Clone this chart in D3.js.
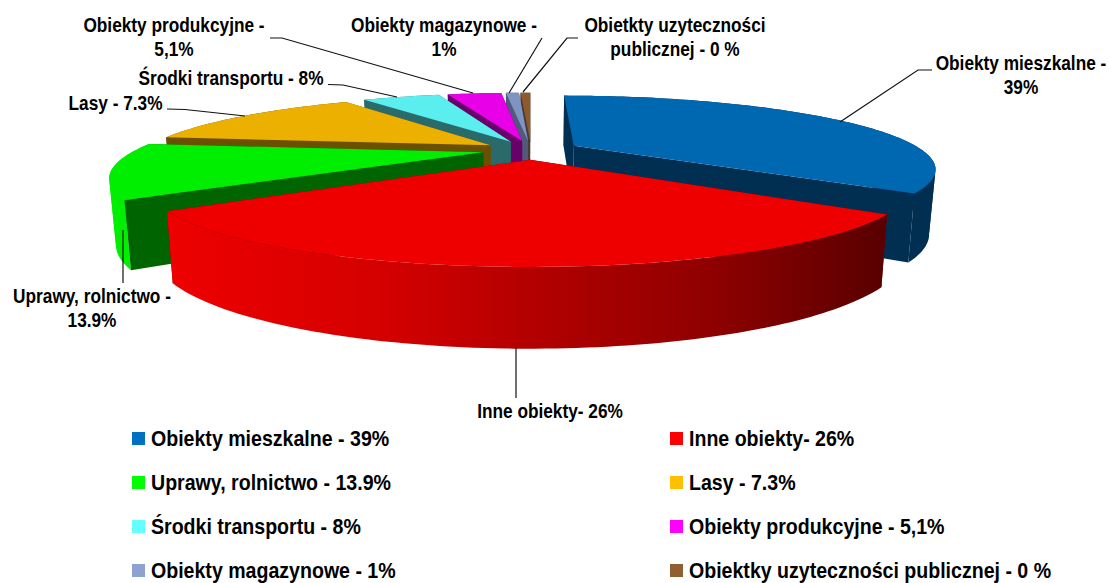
<!DOCTYPE html>
<html><head><meta charset="utf-8">
<script src="https://cdnjs.cloudflare.com/ajax/libs/d3/7.8.5/d3.min.js"></script>
<style>
html,body{margin:0;padding:0;background:#fff}
svg{display:block}
text{font-family:"Liberation Sans",Arial,sans-serif;font-weight:bold;fill:#000}
</style></head><body>
<svg id="c" width="1110" height="583"></svg>
<script>
// Series as listed in the legend (label text is what the chart prints)
const categories = ["Obiekty mieszkalne - 39%","Inne obiekty- 26%","Uprawy, rolnictwo - 13.9%","Lasy - 7.3%","Środki transportu - 8%","Obiekty produkcyjne - 5,1%","Obiekty magazynowe - 1%","Obiektky uzyteczności publicznej - 0 %"];
// Printed values
const printedValues = [39,26,13.9,7.3,8,5.1,1,0];
const drawnShares = [35.3,30,11.7,13.6,4.7,3.3,0.8,0.6];
const topColors  = ["#0068b0","#ee0000","#00ee00","#ecb000","#5aeeee","#e800e8","#8094c4","#8c5a2c"];
const sideColors = ["#002f52","#6a0000","#006400","#6b5000","#2a6a6a","#6a006a","#505a7a","#4a3a30"];
const legendColors = ["#0070c0","#ff0000","#00ff00","#ffc000","#66ffff","#ff00ff","#8ea2d0","#8f5f30"];
const paintOrder = [7,6,5,4,3,2,0,1];

const svg = d3.select("#c");
const defs = svg.append("defs");
const cx=531, cy=150, R=348, H=67.5, K=0.3, EXPL=0.14, DEPTH=61, TAPER=0.016;
const proj=(u,v,z=0)=>{const s=1/(1-K*v);return [cx+R*u*s*(1-TAPER*z/DEPTH), cy+H*v*s+z*Math.pow(s,0.7)];};
const pie=d3.pie().sort(null).value(d=>d).startAngle(0).endAngle(2*Math.PI);
const arcs=pie(drawnShares);
const line=d3.line().curve(d3.curveLinearClosed);

// Red rim gradient
const g=defs.append("linearGradient").attr("id","redRim").attr("gradientUnits","userSpaceOnUse").attr("x1",168).attr("x2",889).attr("y1",0).attr("y2",0);
[[0,"#ee0000"],[0.3,"#d40000"],[0.5,"#b40000"],[0.75,"#900000"],[1,"#580000"]].forEach(s=>g.append("stop").attr("offset",s[0]).attr("stop-color",s[1]));

paintOrder.forEach(i=>{
  const a=arcs[i], mid=(a.startAngle+a.endAngle)/2;
  const ox=EXPL*Math.sin(mid), oy=-EXPL*Math.cos(mid);
  const n=Math.max(4,Math.ceil((a.endAngle-a.startAngle)/0.02));
  const angs=d3.range(n+1).map(j=>a.startAngle+(a.endAngle-a.startAngle)*j/n);
  const rim=angs.map(t=>[ox+Math.sin(t),oy-Math.cos(t)]);
  const apex=[ox,oy];
  const P=(p,z)=>proj(p[0],p[1],z);
  const G=svg.append("g");
  const first=rim[0], last=rim[rim.length-1];
  const wallFill = i===1 ? "url(#redRim)" : (i===2 ? topColors[2] : sideColors[i]);
  const drawWall=()=>{
    // split the rim where its screen direction turns, so each run is one clean band
    const runs=[];
    rim.forEach((p,j)=>{
      if(j===0){runs.push([p]);return;}
      const sign=Math.sign(P(p,0)[0]-P(rim[j-1],0)[0]);
      const cur=runs[runs.length-1];
      if(cur.sign===undefined||cur.sign===sign){cur.push(p);cur.sign=sign;}
      else{const nr=[rim[j-1],p];nr.sign=sign;runs.push(nr);}
    });
    runs.forEach(r=>G.append("path")
      .attr("d",line(r.map(p=>P(p,0)).concat(r.slice().reverse().map(p=>P(p,DEPTH)))))
      .attr("fill",wallFill));
  };
  const drawCuts=()=>{
    [first,last].sort((p,q)=>p[1]-q[1]).forEach(e=>{
      G.append("path").attr("d",line([P(apex,0),P(e,0),P(e,DEPTH),P(apex,DEPTH)])).attr("fill",sideColors[i]);
    });
  };
  if(a.startAngle<Math.PI && a.endAngle>Math.PI){drawCuts();drawWall();} else {drawWall();drawCuts();}
  // top
  G.append("path").attr("d",line([P(apex,0)].concat(rim.map(p=>P(p,0))))).attr("fill",topColors[i]);
});

// Leader lines
const leaders=[
 [[840,122],[918,70],[932,70]],
 [[516,348],[516,398]],
 [[123,230],[123,283]],
 [[167,109],[185,109.5],[245,116]],
 [[328,84.5],[343,85],[397,97]],
 [[270,38],[282,38],[473,93]],
 [[542,38],[509,93]],
 [[578,38],[567,38],[523,92]]
];
leaders.forEach(l=>svg.append("path").attr("d",d3.line()(l)).attr("fill","none").attr("stroke","#111").attr("stroke-width",1.2));

// Data labels
const SX=0.885;
const labels=[
 [1021,70,["Obiekty mieszkalne -","39%"]],
 [550,418,["Inne obiekty- 26%"]],
 [92,303,["Uprawy, rolnictwo -","13.9%"]],
 [115.5,110,["Lasy - 7.3%"]],
 [231,85,["Środki transportu - 8%"]],
 [174,32,["Obiekty produkcyjne -","5,1%"]],
 [444,32,["Obiekty magazynowe -","1%"]],
 [675,32,["Obietkty uzyteczności","publicznej - 0 %"]]
];
labels.forEach(([x,y,ls])=>{
  const t=svg.append("text").attr("transform",`translate(${x},${y}) scale(${SX},1)`).attr("text-anchor","middle").attr("font-size",19.5);
  ls.forEach((s,k)=>t.append("tspan").attr("x",0).attr("y",k*24).text(s));
});

// Legend
const legX=d3.scalePoint().domain([0,1]).range([132,670]);
const legY=d3.scalePoint().domain([0,1,2,3]).range([438,570]);
categories.forEach((c,i)=>{
  const col=i%2,row=(i-col)/2;
  svg.append("rect").attr("x",legX(col)).attr("y",legY(row)-6).attr("width",13).attr("height",13).attr("fill",legendColors[i]);
  svg.append("text").attr("transform",`translate(${legX(col)+19},${legY(row)+8}) scale(0.87,1)`).attr("font-size",22.5).text(c);
});
</script></body></html>
